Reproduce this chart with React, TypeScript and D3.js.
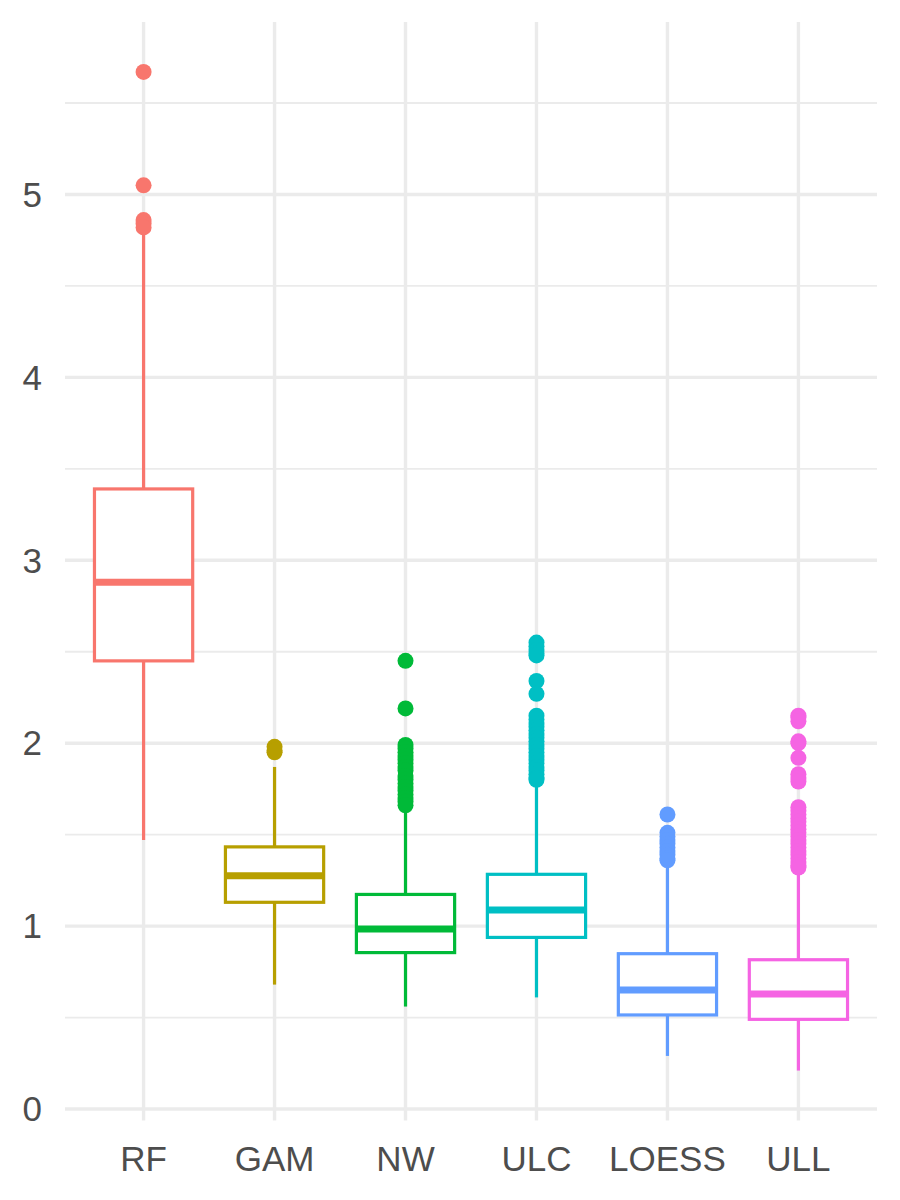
import React from 'react';
import { scaleLinear, scalePoint, extent } from 'd3';

const methods = ['RF', 'GAM', 'NW', 'ULC', 'LOESS', 'ULL'];
const colors = ['#F8766D', '#B79F00', '#00BA38', '#00BFC4', '#619CFF', '#F564E3'];

const whiskerLow = [1.47, 0.68, 0.56, 0.61, 0.29, 0.21];
const q1 = [2.45, 1.13, 0.855, 0.938, 0.514, 0.49];
const median = [2.88, 1.275, 0.984, 1.088, 0.65, 0.628];
const q3 = [3.39, 1.433, 1.173, 1.283, 0.849, 0.816];
const whiskerHigh = [4.79, 1.87, 1.63, 1.78, 1.34, 1.3];

const outliersRF = [5.67, 5.05, 4.86, 4.84, 4.82];
const outliersGAM = [1.98, 1.96, 1.95];
const outliersNW = [2.45, 2.19, 1.99, 1.97, 1.95, 1.93, 1.91, 1.89, 1.87, 1.85, 1.82, 1.8, 1.78, 1.76, 1.74, 1.72, 1.7, 1.68, 1.66];
const outliersULC = [2.55, 2.53, 2.51, 2.49, 2.48, 2.34, 2.27, 2.15, 2.13, 2.11, 2.09, 2.07, 2.05, 2.03, 2.01, 1.99, 1.97, 1.95, 1.93, 1.91, 1.89, 1.87, 1.85, 1.83, 1.81, 1.8];
const outliersLOESS = [1.61, 1.51, 1.49, 1.47, 1.45, 1.43, 1.41, 1.39, 1.37, 1.36];
const outliersULL = [2.15, 2.14, 2.12, 2.01, 2.0, 1.92, 1.83, 1.81, 1.79, 1.65, 1.63, 1.61, 1.59, 1.57, 1.55, 1.53, 1.51, 1.49, 1.47, 1.45, 1.43, 1.41, 1.39, 1.37, 1.35, 1.33, 1.32];
const outliers = [outliersRF, outliersGAM, outliersNW, outliersULC, outliersLOESS, outliersULL];

const majorTicks = [0, 1, 2, 3, 4, 5];
const minorTicks = [0.5, 1.5, 2.5, 3.5, 4.5, 5.5];

const width = 900;
const height = 1200;
const panel = { left: 65, right: 877, top: 22, bottom: 1120.5 };
const textColor = '#4D4D4D';
const gridColor = '#EBEBEB';
const font = '"Liberation Sans", Arial, sans-serif';

const App: React.FC = () => {
  const allVals = [...whiskerLow, ...whiskerHigh, ...outliers.flat()];
  const [lo, hi] = extent(allVals) as [number, number];
  const pad = (hi - lo) * 0.05;

  const y = scaleLinear().domain([lo - pad, hi + pad]).range([panel.bottom, panel.top]);
  const x = scalePoint<string>().domain(methods).range([panel.left, panel.right]).padding(0.6);
  const boxW = x.step() * 0.75;

  return (
    <div style={{ position: 'absolute', left: 0, top: 0 }}>
      <svg width={width} height={height} style={{ background: '#fff', display: 'block' }}>
        {/* grid */}
        {minorTicks.map((t) => (
          <line key={`mn${t}`} x1={panel.left} x2={panel.right} y1={y(t)} y2={y(t)} stroke={gridColor} strokeWidth={1.8} />
        ))}
        {majorTicks.map((t) => (
          <line key={`mj${t}`} x1={panel.left} x2={panel.right} y1={y(t)} y2={y(t)} stroke={gridColor} strokeWidth={3.4} />
        ))}
        {methods.map((m) => (
          <line key={`vx${m}`} x1={x(m)} x2={x(m)} y1={panel.top} y2={panel.bottom} stroke={gridColor} strokeWidth={3.4} />
        ))}

        {/* boxes */}
        {methods.map((m, i) => {
          const cx = x(m) as number;
          const c = colors[i];
          return (
            <g key={m}>
              <line x1={cx} x2={cx} y1={y(q3[i])} y2={y(whiskerHigh[i])} stroke={c} strokeWidth={3.2} />
              <line x1={cx} x2={cx} y1={y(q1[i])} y2={y(whiskerLow[i])} stroke={c} strokeWidth={3.2} />
              <rect
                x={cx - boxW / 2}
                y={y(q3[i])}
                width={boxW}
                height={y(q1[i]) - y(q3[i])}
                fill="#fff"
                stroke={c}
                strokeWidth={3.2}
              />
              <line x1={cx - boxW / 2} x2={cx + boxW / 2} y1={y(median[i])} y2={y(median[i])} stroke={c} strokeWidth={7} />
              {outliers[i].map((v, j) => (
                <circle key={j} cx={cx} cy={y(v)} r={8} fill={c} />
              ))}
            </g>
          );
        })}

        {/* y axis labels */}
        {majorTicks.map((t) => (
          <text
            key={`yl${t}`}
            x={42}
            y={y(t)}
            dy="0.35em"
            textAnchor="end"
            fontSize={35}
            fontFamily={font}
            fill={textColor}
          >
            {t}
          </text>
        ))}

        {/* x axis labels */}
        {methods.map((m) => (
          <text
            key={`xl${m}`}
            x={x(m)}
            y={1171}
            textAnchor="middle"
            fontSize={35}
            fontFamily={font}
            fill={textColor}
          >
            {m}
          </text>
        ))}
      </svg>
    </div>
  );
};

export default App;
